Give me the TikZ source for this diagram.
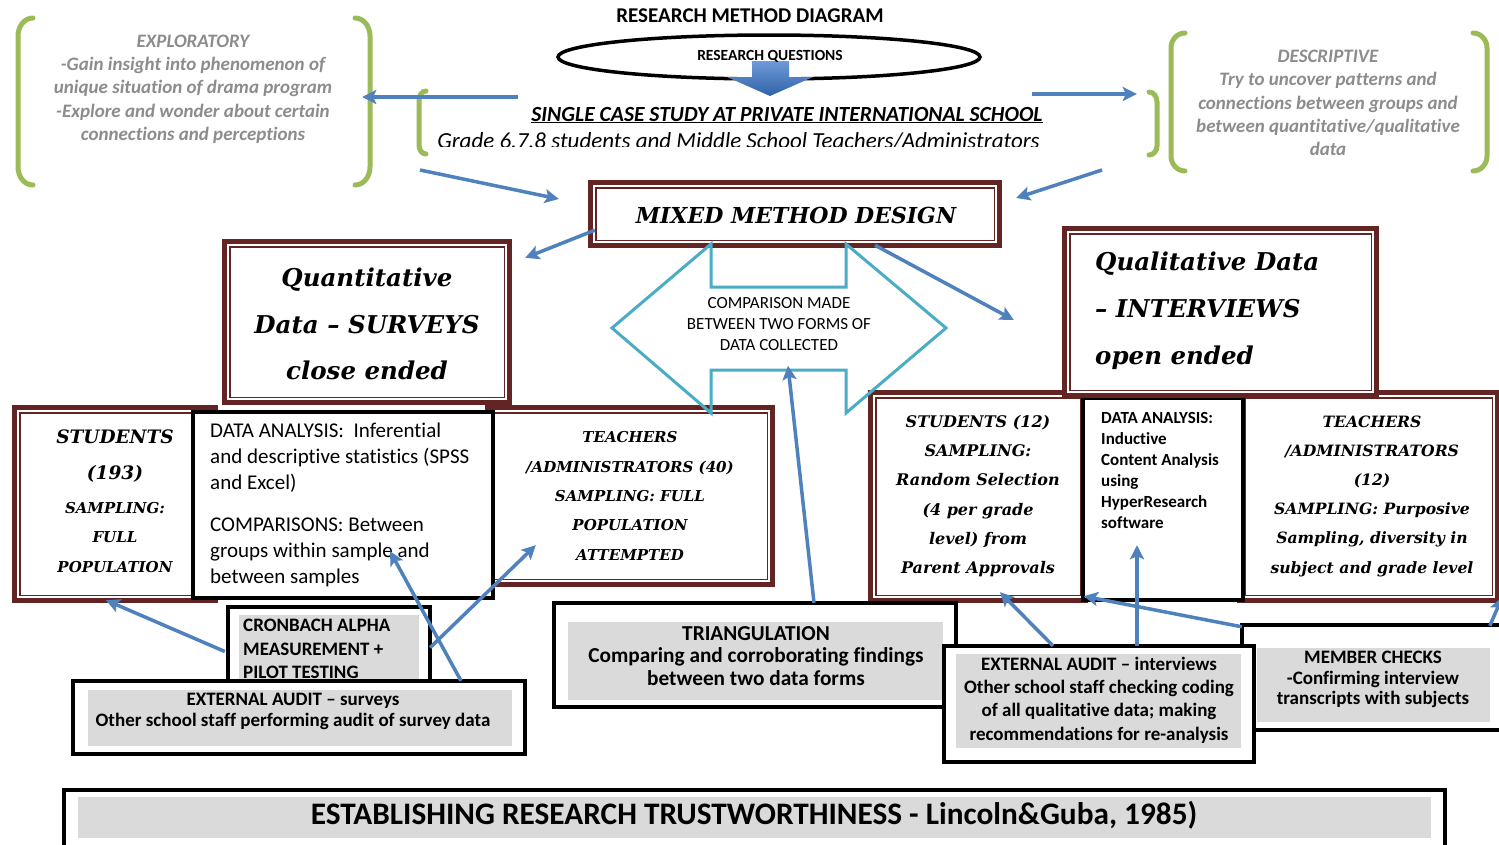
\documentclass[tikz,border=0pt]{standalone}
\usepackage{fontspec}
\setmainfont{Carlito}[Ligatures={TeX,NoCommon}]
\newfontfamily\cam{DejaVu Serif}
\usetikzlibrary{shapes.geometric,arrows.meta,calc,fit}
\definecolor{mar}{HTML}{632523}
\definecolor{ablue}{HTML}{4F81BD}
\definecolor{grn}{HTML}{9BBB59}
\definecolor{tealb}{HTML}{4BACC6}
\definecolor{gfill}{HTML}{DADADA}
\definecolor{gtext}{HTML}{8C8C8C}
\definecolor{bluetop}{HTML}{6F9BD8}
\definecolor{bluebot}{HTML}{2F62A8}
\newcommand\fs[2]{\fontsize{#1}{#2}\selectfont}
% maroon thick-thin frame: x0 y0 x1 y1 name
\newcommand\mframe[5]{%
  \fill[mar] (#1,#2) rectangle (#3,#4);
  \fill[white] ($(#1,#2)+(8.5,8.5)$) rectangle ($(#3,#4)+(-8.5,-8.5)$);
  \draw[white,line width=1.3pt] ($(#1,#2)+(6,6)$) rectangle ($(#3,#4)+(-6,-6)$);
  \node[fit={(#1,#2) (#3,#4)},inner sep=0pt] (#5) {};}
% black frame
\newcommand\bframe[5]{%
  \draw[line width=4pt,fill=white] (#1,#2) rectangle (#3,#4);
  \node[fit={(#1,#2) (#3,#4)},inner sep=0pt] (#5) {};}
\begin{document}
\begin{tikzpicture}[x=1pt,y=-1pt,
  barrow/.style={ablue,line width=3.5pt,-{Stealth[length=14pt,width=14pt,inset=3pt]}},
  brk/.style={grn,line width=5pt,line cap=round},
  txt/.style={inner sep=0pt,align=center},
  sertxt/.style={txt,font=\cam\bfseries\itshape},
  greytxt/.style={txt,text=gtext,font=\bfseries\itshape\fs{19}{23.3}},
  boldtxt/.style={txt,font=\bfseries}]
\useasboundingbox (0,0) rectangle (1499,844);
\fill[white] (0,0) rectangle (1499,844);

% ---------- title ----------
\node[boldtxt,font=\bfseries\fs{21}{25}] (title) at (750,16) {RESEARCH METHOD DIAGRAM};

% ---------- exploratory ----------
\draw[brk] (33,18) to[out=180,in=90] (18,36) -- (18,167) to[out=-90,in=180] (33,185);
\draw[brk] (355,18) to[out=0,in=90] (370,36) -- (370,167) to[out=-90,in=0] (355,185);
\node[greytxt] (expl) at (193,89) {EXPLORATORY\\-Gain insight into phenomenon of\\unique situation of drama program\\-Explore and wonder about certain\\connections and perceptions};
\node[fit={(18,18) (370,176)},inner sep=0pt] (explgrp) {};

% ---------- descriptive ----------
\draw[brk] (1185,33) to[out=180,in=90] (1171,48) -- (1171,156) to[out=-90,in=180] (1185,171);
\draw[brk] (1473,33) to[out=0,in=90] (1487,48) -- (1487,156) to[out=-90,in=0] (1473,171);
\node[greytxt] (desc) at (1328,103) {DESCRIPTIVE\\Try to uncover patterns and\\connections between groups and\\between quantitative/qualitative\\data};

% ---------- research questions ----------
\node[ellipse,draw,line width=3.5pt,minimum width=422pt,minimum height=44pt,inner sep=0pt] (rqell) at (769,57) {};
\shade[top color=bluetop,bottom color=bluebot] (752,61) -- (789,61) -- (789,77) -- (813,77) -- (770,96) -- (727,77) -- (752,77) -- cycle;
\node[boldtxt,font=\bfseries\fs{15.5}{18}] (rq) at (770,56) {RESEARCH QUESTIONS};

% ---------- case study ----------
\draw[brk] (426,91) to[out=180,in=90] (419,101) -- (419,145) to[out=-90,in=180] (426,154);
\draw[brk] (1149,92) to[out=0,in=90] (1157,102) -- (1157,146) to[out=-90,in=0] (1149,155);
\node[fit={(419,17) (1157,171)},inner sep=0pt] (casegrp) {};
\node[fit={(1149,17) (1487,171)},inner sep=0pt] (descgrp) {};
\node[boldtxt,font=\bfseries\itshape\fs{21.6}{24}] (case) at (787,115) {\underline{SINGLE CASE STUDY AT PRIVATE INTERNATIONAL SCHOOL}};
\begin{scope}
\clip (400,100) rectangle (1100,146.5);
\node[inner sep=0pt,anchor=base,font=\itshape\fs{23}{27}] (grade) at (738.5,148.5) {Grade 6.7.8 students and Middle School Teachers/Administrators};
\end{scope}

\coordinate (fromcaseL) at (518,97);
\coordinate (fromcaseR) at (1032,94);
\draw[barrow] (fromcaseL) -- ($(explgrp.east)+(-8,0)$);
\draw[barrow] (fromcaseR) -- ($(descgrp.west)+(-12,0)$);

% ---------- quantitative header ----------
\mframe{222}{239}{512}{405}{quant}
\node[sertxt,font=\cam\bfseries\itshape\fs{24.5}{46.5}] (quanttxt) at (367,324) {Quantitative\\Data – SURVEYS\\close ended};

% ---------- left row ----------
\mframe{12}{405}{218}{603}{stud193}
\mframe{485}{405}{775}{587}{teach40}
\bframe{193}{412}{493}{598}{da1}
\node[sertxt,font=\cam\bfseries\itshape\fs{18.5}{36}] (stud193a) at (115,456.5) {STUDENTS\\(193)};
\node[sertxt,font=\cam\bfseries\itshape\fs{15}{29.3}] (stud193b) at (115,537.5) {SAMPLING:\\FULL\\POPULATION};
\node[sertxt,font=\cam\bfseries\itshape\fs{15}{29.3}] (teach40txt) at (630,496) {TEACHERS\\/ADMINISTRATORS (40)\\SAMPLING: FULL\\POPULATION\\ATTEMPTED};
\node[txt,align=left,anchor=west,font=\fs{21}{26}] (da1txt) at (210,505) {DATA ANALYSIS:\ \ Inferential\\and descriptive statistics (SPSS\\and Excel)\\[16pt]COMPARISONS: Between\\groups within sample and\\between samples};

% ---------- right row ----------
\mframe{868}{390}{1088}{603}{stud12}
\mframe{1237}{390}{1500}{603}{teach12}
\bframe{1083}{398}{1243}{600}{da2}
\mframe{1062}{226}{1379}{398}{qual}
\node[sertxt,align=left,anchor=west,font=\cam\bfseries\itshape\fs{24.5}{47}] (qualtxt) at (1095,311) {Qualitative Data\\– INTERVIEWS\\open ended};
\node[sertxt,font=\cam\bfseries\itshape\fs{16}{29.2}] (stud12txt) at (978,496) {STUDENTS (12)\\SAMPLING:\\Random Selection\\(4 per grade\\level) from\\Parent Approvals};
\node[sertxt,font=\cam\bfseries\itshape\fs{15.6}{29.2}] (teach12txt) at (1372,496) {TEACHERS\\/ADMINISTRATORS\\(12)\\SAMPLING: Purposive\\Sampling, diversity in\\subject and grade level};
\node[txt,align=left,anchor=west,font=\bfseries\fs{17}{21}] (da2txt) at (1101,470) {DATA ANALYSIS:\\Inductive\\Content Analysis\\using\\HyperResearch\\software};

% ---------- mixed method ----------
\mframe{588}{180}{1002}{248}{mixed}
\node[sertxt,font=\cam\bfseries\itshape\fs{22}{26}] (mixedtxt) at (796,215) {MIXED METHOD DESIGN};

% ---------- comparison double arrow ----------
\draw[tealb,line width=3pt,line join=miter]
  (711,244) -- (711,287) -- (846,287) -- (846,244) -- (946,328) -- (846,413)
  -- (846,370) -- (711,370) -- (711,413) -- (612,328) -- cycle;
\node[txt,font=\fs{17}{21}] (cmptxt) at (779,324) {COMPARISON MADE\\BETWEEN TWO FORMS OF\\DATA COLLECTED};

% arrows around mixed
\coordinate (fromL) at (420,170);
\coordinate (fromR) at (1102,170);
\draw[barrow] (fromL) -- ($(mixed.west)+(-29,-15)$);
\draw[barrow] (fromR) -- ($(mixed.east)+(14,-16)$);
\draw[barrow] ($(mixed.south west)+(7,-18)$) -- ($(quant.north east)+(13,19)$);
\draw[barrow] ($(mixed.south)+(80,-3)$) -- ($(qual.west)+(-48,8)$);

% ---------- bottom boxes ----------
\bframe{228}{607}{430}{690}{cron}
\fill[gfill] (239,615) rectangle (419,686);
\node[txt,align=left,anchor=west,font=\bfseries\fs{19}{23.5}] (crontxt) at (243,649) {CRONBACH ALPHA\\MEASUREMENT +\\PILOT TESTING};

\bframe{73}{681}{525}{754}{extaud1}
\fill[gfill] (88,690) rectangle (512,746);
\node[boldtxt,font=\bfseries\fs{19}{21}] (extaud1txt) at (293,711) {EXTERNAL AUDIT – surveys\\Other school staff performing audit of survey data};

\bframe{1242}{625}{1505}{730}{member}
\fill[gfill] (1257,648) rectangle (1490,722);
\node[boldtxt,font=\bfseries\fs{19}{20.5}] (membertxt) at (1373,679.5) {MEMBER CHECKS\\-Confirming interview\\transcripts with subjects};

\bframe{554}{603}{956}{707}{tri}
\fill[gfill] (568,622) rectangle (943,700);
\node[boldtxt,font=\bfseries\fs{21.3}{22.5}] (tritxt) at (756,656) {TRIANGULATION\\Comparing and corroborating findings\\between two data forms};

\bframe{944}{646}{1254}{762}{extaud2}
\fill[gfill] (956,654) rectangle (1241,748);
\node[boldtxt,font=\bfseries\fs{19}{23.3}] (extaud2txt) at (1099,700) {EXTERNAL AUDIT – interviews\\Other school staff checking coding\\of all qualitative data; making\\recommendations for re-analysis};

\bframe{64}{790}{1445}{852}{trust}
\fill[gfill] (78,797) rectangle (1431,838);
\node[boldtxt,font=\bfseries\fs{31.3}{34}] (trusttxt) at (754,815) {ESTABLISHING RESEARCH TRUSTWORTHINESS - Lincoln\&Guba, 1985)};

% ---------- bottom arrows ----------
\draw[barrow] ($(cron.west)+(-3,3)$) -- ($(stud193.south)+(-9,-3)$);
\draw[barrow] ($(extaud1.north)+(162,0)$) -- ($(da1.south)+(47,-47)$);
\draw[barrow] ($(cron.east)+(0,-1)$) -- ($(teach40.south west)+(51,-42)$);
\draw[barrow] ($(tri.north)+(59,0)$) -- ($(cmptxt.south)+(9,15)$);
\draw[barrow] ($(extaud2.north)+(-46,0)$) -- ($(stud12.south)+(22,-11)$);
\draw[barrow] ($(extaud2.north)+(38,0)$) -- ($(da2.south)+(-26,-55)$);
\draw[barrow] ($(member.north west)+(0,2)$) -- ($(da2.south west)+(1,-4)$);
\draw[barrow] ($(member.north west)+(248,1)$) -- ($(teach12.south east)+(2,-6)$);
\end{tikzpicture}
\end{document}
